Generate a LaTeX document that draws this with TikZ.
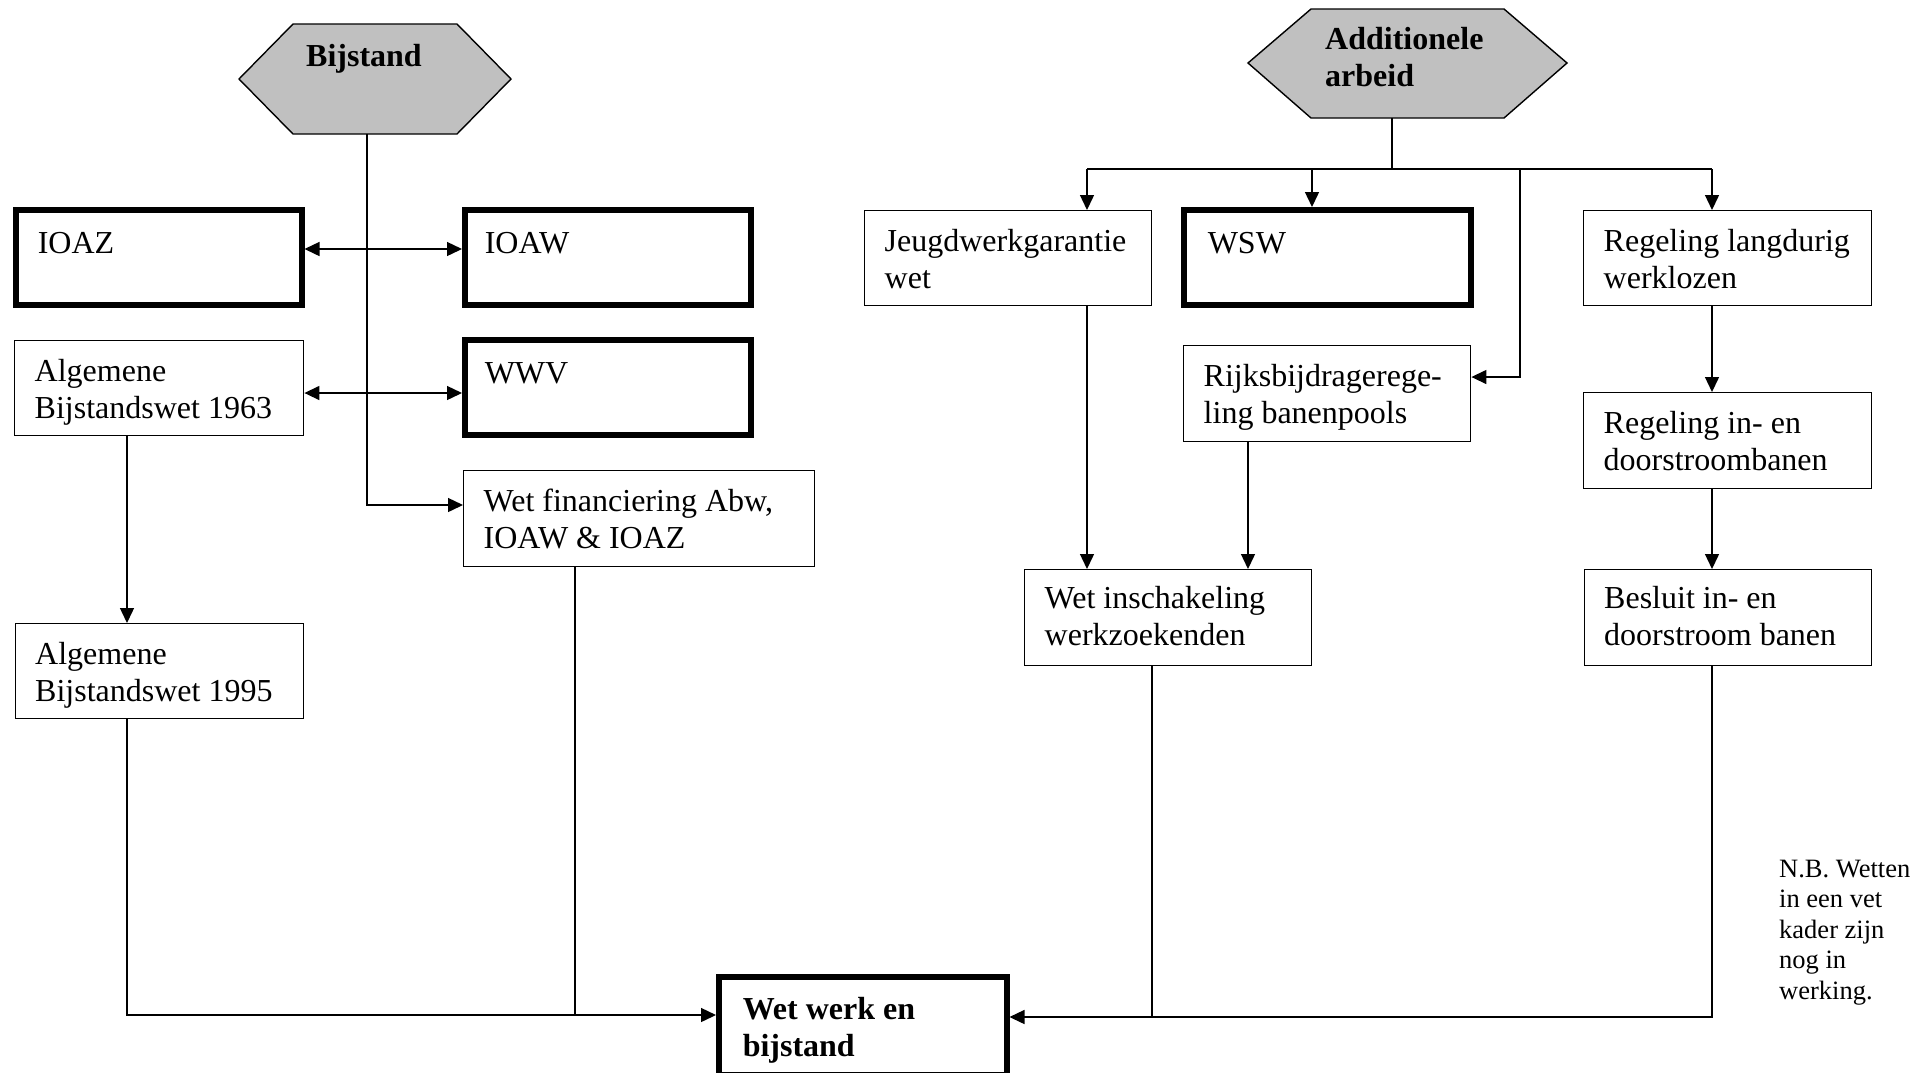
\documentclass[tikz,border=0pt]{standalone}
\usepackage{fontspec}
\setmainfont{Liberation Serif}
\usetikzlibrary{arrows.meta}
\definecolor{hexgray}{RGB}{192,192,192}
\newcommand{\lawtext}[5][20pt]{\parbox[c][#3][t]{#2}{\raggedright\setlength{\leftskip}{#1}\rule{0pt}{#4}#5}}
\begin{document}
\begin{tikzpicture}[x=1pt,y=-1pt,
  every node/.style={font=\fontsize{32}{37}\selectfont},
  thinbox/.style={draw, line width=1.4pt, inner sep=0pt, anchor=north west},
  vetbox/.style={thinbox, line width=5.5pt},
  conn/.style={line width=1.4pt},
  arr/.style={conn, -{Triangle[length=15pt,width=14pt]}},
  arrboth/.style={conn, {Triangle[length=15pt,width=14pt]}-{Triangle[length=15pt,width=14pt]}},
  hexshape/.style={fill=hexgray, draw=black, line width=1.4pt}]
\useasboundingbox (0,0) rectangle (1932,1072);

% hexagons
\filldraw[hexshape] (239,79) -- (293,24) -- (457,24) -- (511,79) -- (457,134) -- (293,134) -- cycle;
\filldraw[hexshape] (1248,63) -- (1311,9) -- (1504,9) -- (1567,63) -- (1504,118) -- (1311,118) -- cycle;
\node[anchor=base, font={\fontsize{32}{37}\selectfont\bfseries}] (bijstand) at (364,66) {Bijstand};
\node[anchor=north west, inner sep=0pt, font={\fontsize{32}{37}\selectfont\bfseries}] (additionele) at (1325,9)
  {\parbox[t]{200pt}{\raggedright\rule{0pt}{40pt}Additionele\\arbeid}};
\coordinate (bijbot) at (367,134);
\coordinate (addbot) at (1392,118);

% boxes (positions are outer corners)
\node[vetbox] (ioaz) at (13,207) {\lawtext[22pt]{286pt}{95pt}{44pt}{IOAZ}};
\node[vetbox] (ioaw) at (462,207) {\lawtext[20pt]{286pt}{95pt}{44pt}{IOAW}};
\node[thinbox] (alg63) at (14,340) {\lawtext{289pt}{95pt}{41pt}{Algemene\\Bijstandswet 1963}};
\node[vetbox] (wwv) at (462,337) {\lawtext[20pt]{286pt}{95pt}{44pt}{WWV}};
\node[thinbox] (wetfin) at (463,470) {\lawtext{351pt}{96pt}{41pt}{Wet financiering Abw,\\IOAW \& IOAZ}};
\node[thinbox] (alg95) at (14.5,623) {\lawtext{288pt}{95pt}{41pt}{Algemene\\Bijstandswet 1995}};
\node[vetbox] (wwb) at (716,974) {\lawtext[24pt]{288pt}{98pt}{43pt}{\bfseries Wet werk en\\bijstand}};
\node[thinbox] (jeugd) at (864,210) {\lawtext{287pt}{95pt}{41pt}{Jeugdwerkgarantie\\wet}};
\node[vetbox] (wsw) at (1181,207) {\lawtext[24pt]{287pt}{95pt}{44pt}{WSW}};
\node[thinbox] (regl) at (1583,210) {\lawtext{288pt}{95pt}{41pt}{Regeling langdurig\\werklozen}};
\node[thinbox] (rijks) at (1183,345) {\lawtext{287pt}{96pt}{41pt}{Rijksbijdragerege-\\ling banenpools}};
\node[thinbox] (regin) at (1583,392) {\lawtext{288pt}{96pt}{41pt}{Regeling in- en\\doorstroombanen}};
\node[thinbox] (wetinsch) at (1024,569) {\lawtext{287pt}{96pt}{39pt}{Wet inschakeling\\werkzoekenden}};
\node[thinbox] (besluit) at (1583.5,569) {\lawtext{287pt}{96pt}{39pt}{Besluit in- en\\doorstroom banen}};

% note
\node[anchor=north west, inner sep=0pt, font={\fontsize{26.5}{30.5}\selectfont}] (nb) at (1779,855)
  {\parbox[t]{150pt}{\raggedright\rule{0pt}{22pt}N.B. Wetten\\in een vet\\kader zijn\\nog in\\werking.}};

% helper coordinates
\coordinate (h169) at (0,169);
\coordinate (h249) at (0,249);
\coordinate (h377) at (0,377);
\coordinate (h393) at (0,393);
\coordinate (h505) at (0,505);
\coordinate (h1015) at (0,1015);
\coordinate (h1017) at (0,1017);
\coordinate (v127) at (127,0);
\coordinate (v575) at (575,0);
\coordinate (v1087) at (1087,0);
\coordinate (v1152) at (1152,0);
\coordinate (v1248) at (1248,0);
\coordinate (v1312) at (1312,0);
\coordinate (v1520) at (1520,0);
\coordinate (v1712) at (1712,0);

% connectors, left part
\draw[arrboth] (ioaz.east |- h249) -- (ioaw.west |- h249);
\draw[arrboth] (alg63.east |- h393) -- (wwv.west |- h393);
\draw[arr] (bijbot) |- (wetfin.west |- h505);
\draw[arr] (alg63.south -| v127) -- (alg95.north -| v127);
\draw[arr] (alg95.south -| v127) |- (wwb.west |- h1015);
\draw[conn] (wetfin.south -| v575) -- (v575 |- h1015);

% connectors, right part
\draw[conn] (addbot) -- (addbot |- h169);
\draw[conn, line width=2pt] (v1087 |- h169) -- (v1712 |- h169);
\draw[arr] (v1087 |- h169) -- (jeugd.north -| v1087);
\draw[arr] (v1312 |- h169) -- (wsw.north -| v1312);
\draw[arr] (v1712 |- h169) -- (regl.north -| v1712);
\draw[arr] (v1520 |- h169) |- (rijks.east |- h377);
\draw[arr] (jeugd.south -| v1087) -- (wetinsch.north -| v1087);
\draw[arr] (rijks.south -| v1248) -- (wetinsch.north -| v1248);
\draw[arr] (regl.south -| v1712) -- (regin.north -| v1712);
\draw[arr] (regin.south -| v1712) -- (besluit.north -| v1712);
\draw[conn] (wetinsch.south -| v1152) -- (v1152 |- h1017);
\draw[arr] (besluit.south -| v1712) |- (wwb.east |- h1017);
\end{tikzpicture}
\end{document}
